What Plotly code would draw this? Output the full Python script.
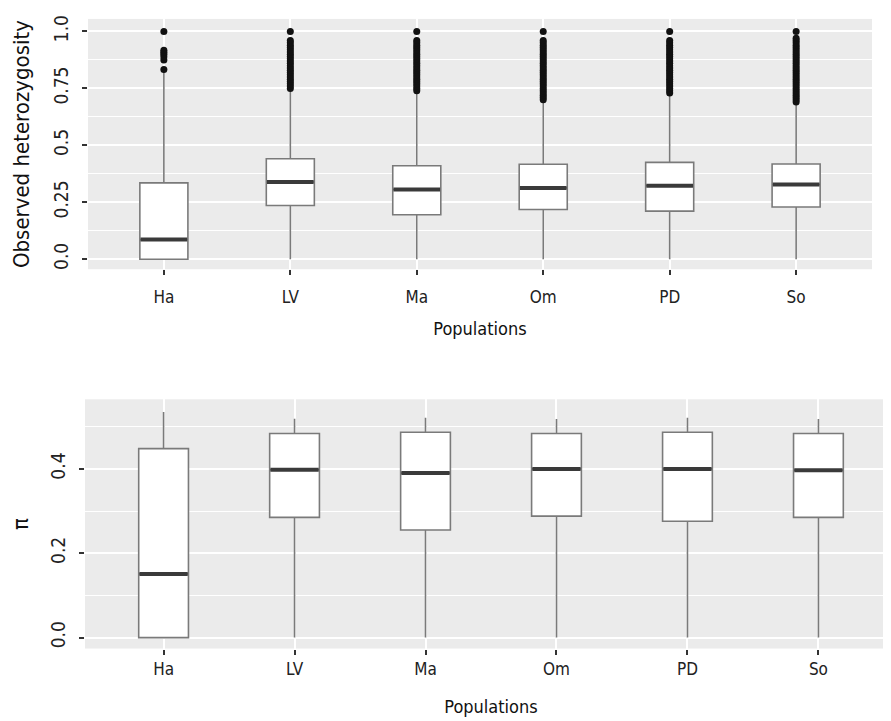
import plotly.graph_objects as go

# ---------------- data ----------------
categories = ["Ha", "LV", "Ma", "Om", "PD", "So"]

# Observed heterozygosity (top panel)
ho_lower = [0.0, 0.0, 0.0, 0.0, 0.0, 0.0]
ho_q1 = [0.0, 0.236, 0.195, 0.218, 0.211, 0.229]
ho_median = [0.086, 0.339, 0.306, 0.313, 0.323, 0.328]
ho_q3 = [0.335, 0.441, 0.410, 0.417, 0.425, 0.418]
ho_upper = [0.822, 0.745, 0.738, 0.693, 0.728, 0.683]

ho_out_Ha = [0.833, 0.875, 0.889, 0.900, 0.909, 0.917, 1.0]
ho_out_LV = [0.75, 0.76, 0.77, 0.78, 0.79, 0.80, 0.81, 0.82, 0.83, 0.84, 0.85, 0.86,
             0.87, 0.88, 0.89, 0.90, 0.91, 0.92, 0.93, 0.94, 0.95, 0.96, 1.0]
ho_out_Ma = [0.74, 0.75, 0.76, 0.77, 0.78, 0.79, 0.80, 0.81, 0.82, 0.83, 0.84, 0.85,
             0.86, 0.87, 0.88, 0.89, 0.90, 0.91, 0.92, 0.93, 0.94, 0.95, 0.96, 1.0]
ho_out_Om = [0.70, 0.71, 0.72, 0.73, 0.74, 0.75, 0.76, 0.77, 0.78, 0.79, 0.80, 0.81,
             0.82, 0.83, 0.84, 0.85, 0.86, 0.87, 0.88, 0.89, 0.90, 0.91, 0.92, 0.93,
             0.94, 0.95, 0.96, 1.0]
ho_out_PD = [0.73, 0.74, 0.75, 0.76, 0.77, 0.78, 0.79, 0.80, 0.81, 0.82, 0.83, 0.84,
             0.85, 0.86, 0.87, 0.88, 0.89, 0.90, 0.91, 0.92, 0.93, 0.94, 0.95, 0.96, 1.0]
ho_out_So = [0.69, 0.70, 0.71, 0.72, 0.73, 0.74, 0.75, 0.76, 0.77, 0.78, 0.79, 0.80,
             0.81, 0.82, 0.83, 0.84, 0.85, 0.86, 0.87, 0.88, 0.89, 0.90, 0.91, 0.92,
             0.93, 0.94, 0.95, 0.96, 0.97, 1.0]
ho_outliers = {"Ha": ho_out_Ha, "LV": ho_out_LV, "Ma": ho_out_Ma,
               "Om": ho_out_Om, "PD": ho_out_PD, "So": ho_out_So}

# Nucleotide diversity pi (bottom panel)
pi_lower = [0.0, 0.0, 0.0, 0.0, 0.0, 0.0]
pi_q1 = [0.0, 0.285, 0.255, 0.288, 0.276, 0.285]
pi_median = [0.151, 0.398, 0.390, 0.400, 0.400, 0.397]
pi_q3 = [0.448, 0.484, 0.487, 0.484, 0.487, 0.484]
pi_upper = [0.535, 0.519, 0.521, 0.518, 0.521, 0.518]

ho_ticks = [0.0, 0.25, 0.5, 0.75, 1.0]
ho_ticklabels = ["0.0", "0.25", "0.5", "0.75", "1.0"]
pi_ticks = [0.0, 0.2, 0.4]
pi_ticklabels = ["0.0", "0.2", "0.4"]

# ---------------- style ----------------
FONT = "Liberation Sans Narrow, DejaVu Sans Condensed, Roboto, sans-serif"
BG = "#EBEBEB"
BOX_LINE = "#7a7a7a"
MED_LINE = "#3a3a3a"
BOX_W = 0.38

fig = go.Figure()


def add_panel(xa, ya, q1, med, q3, lo, hi):
    fig.add_trace(go.Box(
        x=categories, q1=q1, median=med, q3=q3, lowerfence=lo, upperfence=hi,
        xaxis=xa, yaxis=ya, width=BOX_W, fillcolor="white",
        line=dict(color=BOX_LINE, width=1.6), whiskerwidth=0,
        boxpoints=False, showlegend=False, hoverinfo="skip"))
    # thick median bar
    fig.add_trace(go.Box(
        x=categories, q1=med, median=med, q3=med, lowerfence=med, upperfence=med,
        xaxis=xa, yaxis=ya, width=BOX_W * 0.97, fillcolor="rgba(0,0,0,0)",
        line=dict(color=MED_LINE, width=4), whiskerwidth=0,
        boxpoints=False, showlegend=False, hoverinfo="skip"))


add_panel("x", "y", ho_q1, ho_median, ho_q3, ho_lower, ho_upper)
add_panel("x2", "y2", pi_q1, pi_median, pi_q3, pi_lower, pi_upper)

ox, oy = [], []
for c in categories:
    for v in ho_outliers[c]:
        ox.append(c)
        oy.append(v)
fig.add_trace(go.Scatter(x=ox, y=oy, mode="markers", xaxis="x", yaxis="y",
                         marker=dict(color="#111111", size=7),
                         showlegend=False, hoverinfo="skip"))

W, H = 891, 721
OFF = 8  # page body margin offset


def xdom(l, r):
    return [(l - OFF) / W, min(1.0, (r - OFF) / W)]


def ydom(t, b):
    return [1 - (b - OFF) / H, 1 - (t - OFF) / H]


axis_common_x = dict(
    type="category", categoryorder="array", categoryarray=categories,
    range=[-0.6, 5.6], showgrid=True, gridcolor="white", gridwidth=1.5,
    ticks="outside", ticklen=5, tickwidth=2, tickcolor="#333333",
    tickfont=dict(family=FONT, size=17, color="#222222"),
    showline=False, zeroline=False,
)
axis_common_y = dict(
    showgrid=True, gridcolor="white", gridwidth=1.5,
    ticks="outside", ticklen=5, tickwidth=2, tickcolor="#333333",
    tickfont=dict(family=FONT, size=19, color="#222222"),
    tickangle=-90, showline=False, zeroline=False, ticklabelstandoff=6,
)

fig.update_layout(
    width=W, height=H,
    margin=dict(l=0, r=0, t=0, b=0),
    paper_bgcolor="white", plot_bgcolor=BG,
    boxmode="overlay",
    font=dict(family=FONT, color="#111111"),
    xaxis=dict(axis_common_x, domain=xdom(88, 872), anchor="y",
               ticklabelstandoff=7,
               title=dict(text="Populations", standoff=16,
                          font=dict(family=FONT, size=18, color="#111111"))),
    yaxis=dict(axis_common_y, domain=ydom(15, 267), anchor="x",
               range=[-0.044, 1.055], tickvals=ho_ticks, ticktext=ho_ticklabels,
               minor=dict(tickvals=[0.125, 0.375, 0.625, 0.875], showgrid=True,
                          gridcolor="white", gridwidth=0.7, ticks=""),
               title=dict(text="Observed heterozygosity", standoff=14,
                          font=dict(family=FONT, size=22, color="#111111"))),
    xaxis2=dict(axis_common_x, domain=xdom(85, 897), anchor="y2",
                title=dict(text="Populations", standoff=22,
                           font=dict(family=FONT, size=18, color="#111111"))),
    yaxis2=dict(axis_common_y, domain=ydom(398, 649), anchor="x2",
                range=[-0.026, 0.565], tickvals=pi_ticks, ticktext=pi_ticklabels,
                minor=dict(tickvals=[0.1, 0.3, 0.5], showgrid=True,
                           gridcolor="white", gridwidth=0.7, ticks=""),
                title=dict(text="π", standoff=16,
                           font=dict(family=FONT, size=22, color="#111111"))),
)

fig.write_html("out.html")
